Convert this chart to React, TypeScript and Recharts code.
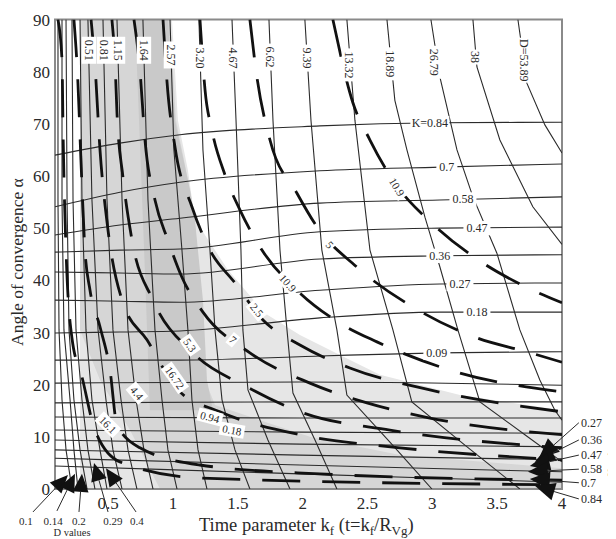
import React from 'react';
import {
  ComposedChart,
  Line,
  Area,
  XAxis,
  YAxis,
  ReferenceDot,
  ReferenceLine,
  ReferenceArea,
} from 'recharts';

type P = [number, number];
type R = [number, number, number];

const FONT = '"Liberation Serif", "Times New Roman", serif';

const X_TICKS = [0.5, 1, 1.5, 2, 2.5, 3, 3.5, 4];
const Y_TICKS = [0, 10, 20, 30, 40, 50, 60, 70, 80, 90];

// shaded regions: [x, low, high]
const SHADE_LIGHT: R[] = [
  [0.283, 0, 90], [0.992, 0, 90], [1.038, 0, 70.7], [1.115, 0, 61.1], [1.169, 0, 51.6],
  [1.424, 0, 42.0], [1.709, 0, 33.7], [1.979, 0, 29.5], [2.287, 0, 25.7], [2.596, 0, 21.9],
  [3.213, 0, 18.0], [4.0, 0, 15.1],
];
const SHADE_MID: R[] = [
  [0.283, 30.5, 90], [0.437, 20.9, 90], [0.668, 11.3, 90], [0.9, 0, 90], [0.977, 0, 90],
  [1.023, 0, 70.7], [1.131, 0, 57.3], [1.169, 0, 51.6], [1.208, 0, 36.2], [1.247, 0, 20.9],
  [1.324, 0, 16.1], [1.671, 0, 13.2], [2.056, 0, 10.0], [2.75, 0, 6.5], [4.0, 0, 4.0],
];
const SHADE_DARK: R[] = [
  [0.707, 90, 90], [0.745, 66.3, 90], [0.784, 41.4, 90], [0.822, 15.1, 90], [0.961, 15.1, 90],
  [1.015, 15.1, 70.7], [1.131, 15.1, 57.3], [1.169, 15.1, 51.6], [1.231, 15.1, 36.2],
  [1.262, 15.1, 20.9], [1.3, 15.1, 16.1],
];

// D iso-lines (solid)
const D_0_10: P[] = [[0.113, 90], [0.113, 55.4], [0.121, 30.5], [0.144, 17.1], [0.175, 7.5], [0.221, 0]];
const D_0_14: P[] = [[0.144, 90], [0.144, 55.4], [0.159, 30.5], [0.206, 17.1], [0.236, 7.5], [0.267, 0]];
const D_0_20: P[] = [[0.175, 90], [0.183, 55.4], [0.198, 30.5], [0.236, 17.1], [0.283, 7.5], [0.337, 0]];
const D_0_29: P[] = [[0.221, 90], [0.229, 55.4], [0.252, 30.5], [0.298, 17.1], [0.344, 7.5], [0.398, 0]];
const D_0_40: P[] = [[0.283, 90], [0.298, 55.4], [0.329, 30.5], [0.375, 17.1], [0.437, 7.5], [0.491, 0]];
const D_0_51: P[] = [[0.344, 90], [0.375, 55.4], [0.422, 30.5], [0.483, 17.1], [0.537, 7.5], [0.607, 0]];
const D_0_81: P[] = [[0.46, 90], [0.491, 55.4], [0.537, 30.5], [0.599, 17.1], [0.653, 7.5], [0.722, 0]];
const D_1_15: P[] = [[0.568, 90], [0.607, 55.4], [0.653, 30.5], [0.715, 17.1], [0.776, 7.5], [0.846, 0]];
const D_1_64: P[] = [[0.768, 90], [0.807, 55.4], [0.861, 30.5], [0.915, 17.1], [0.961, 7.5], [1.031, 0]];
const D_2_57: P[] = [[0.977, 90], [1.007, 65.0], [1.069, 45.8], [1.115, 30.5], [1.146, 17.1], [1.193, 7.5], [1.262, 0]];
const D_3_20: P[] = [[1.2, 90], [1.231, 65.0], [1.285, 45.8], [1.324, 30.5], [1.378, 17.1], [1.478, 7.5], [1.593, 0]];
const D_4_67: P[] = [[1.455, 90], [1.486, 70.7], [1.524, 45.8], [1.539, 30.5], [1.578, 19.0], [1.732, 9.4], [1.902, 0]];
const D_6_62: P[] = [[1.74, 90], [1.771, 70.7], [1.825, 45.8], [1.879, 30.5], [1.925, 18.4], [2.095, 9.4], [2.264, 0]];
const D_9_39: P[] = [[2.017, 90], [2.064, 70.7], [2.148, 45.8], [2.264, 30.5], [2.341, 18.0], [2.673, 9.0], [2.997, 0]];
const D_13_32: P[] = [[2.341, 90], [2.403, 70.7], [2.519, 45.8], [2.696, 30.5], [2.842, 16.7], [3.251, 8.4], [3.675, 0]];
const D_18_89: P[] = [[2.65, 90], [2.711, 74.5], [2.804, 65.0], [2.943, 52.1], [3.058, 42.6], [3.197, 30.5], [3.367, 16.7], [3.714, 10.4], [4.0, 5.2]];
const D_26_79: P[] = [[2.989, 90], [3.058, 79.0], [3.19, 65.0], [3.313, 56.0], [3.498, 45.2], [3.675, 30.5], [3.829, 20.9], [3.945, 15.1], [4.0, 13.2]];
const D_38: P[] = [[3.313, 90], [3.344, 80.9], [3.521, 66.9], [3.775, 54.1], [4.0, 46.9]];
const D_53_89: P[] = [[3.66, 90], [3.729, 77.8], [3.868, 69.8], [4.0, 64.4]];

const D_LINES = [
  D_0_10, D_0_14, D_0_20, D_0_29, D_0_40, D_0_51, D_0_81, D_1_15, D_1_64, D_2_57,
  D_3_20, D_4_67, D_6_62, D_9_39, D_13_32, D_18_89, D_26_79, D_38, D_53_89,
];

// K iso-lines, upper branch
const K_084: P[] = [[0.09, 64.0], [0.591, 66.3], [1.054, 67.9], [2.133, 69.6], [3.058, 70.2], [4.0, 70.3]];
const K_070: P[] = [[0.09, 54.1], [0.591, 56.9], [1.054, 58.8], [2.133, 61.0], [3.058, 61.7], [4.0, 62.3]];
const K_058: P[] = [[0.09, 48.7], [0.591, 50.6], [1.054, 51.9], [2.133, 54.8], [3.058, 55.4], [4.0, 56.0]];
const K_047: P[] = [[0.09, 45.4], [0.591, 45.8], [1.054, 46.0], [2.133, 49.3], [3.058, 50.0], [4.0, 50.2]];
const K_036: P[] = [[0.09, 41.6], [0.591, 41.4], [1.054, 41.2], [2.133, 44.1], [3.058, 44.7], [4.0, 44.9]];
const K_027: P[] = [[0.09, 36.2], [0.591, 36.0], [1.054, 35.8], [2.133, 38.1], [3.058, 39.3], [4.0, 39.5]];
const K_018: P[] = [[0.09, 29.9], [0.591, 30.1], [1.054, 30.3], [2.133, 32.8], [3.058, 33.9], [4.0, 33.9]];
const K_009: P[] = [[0.09, 24.7], [0.591, 24.7], [1.054, 24.7], [2.133, 25.5], [3.058, 26.1], [4.0, 26.3]];
// K iso-lines, lower branch
const KL_009: P[] = [[0.09, 20.3], [1.979, 20.5], [4.0, 19.9]];
const KL_018: P[] = [[0.09, 16.5], [1.979, 16.7], [4.0, 16.7]];
const KL_027: P[] = [[0.09, 13.8], [1.979, 13.6], [4.0, 13.6]];
const KL_036: P[] = [[0.09, 11.3], [1.979, 10.9], [4.0, 10.7]];
const KL_047: P[] = [[0.09, 9.4], [1.979, 8.6], [4.0, 8.1]];
const KL_058: P[] = [[0.09, 7.5], [1.979, 6.5], [4.0, 5.6]];
const KL_070: P[] = [[0.09, 5.9], [1.979, 4.6], [4.0, 3.3]];
const KL_084: P[] = [[0.09, 4.4], [1.979, 2.9], [4.0, 1.3]];

const K_LINES = [
  K_084, K_070, K_058, K_047, K_036, K_027, K_018, K_009,
  KL_009, KL_018, KL_027, KL_036, KL_047, KL_058, KL_070, KL_084,
];

// dashed family
const G_1: P[] = [[2.233, 90], [2.388, 74.0], [2.519, 66.9], [2.696, 59.2], [3.012, 50.6], [3.367, 43.7], [3.691, 39.1], [4.0, 35.7]];
const G_2: P[] = [[1.593, 90], [1.647, 79.0], [1.748, 66.9], [1.956, 56.7], [2.118, 50.0], [2.411, 42.7], [2.904, 34.1], [3.351, 28.9], [3.729, 26.3], [4.0, 24.3]];
const G_3: P[] = [[1.208, 90], [1.247, 76.5], [1.3, 68.8], [1.401, 60.2], [1.516, 53.5], [1.686, 45.8], [1.956, 38.1], [2.287, 31.8], [2.573, 28.2], [3.19, 22.4], [4.0, 18.6]];
const G_4: P[] = [[0.923, 90], [0.954, 78.0], [1.015, 65.6], [1.146, 54.1], [1.285, 45.8], [1.478, 39.5], [1.694, 32.4], [1.979, 27.6], [2.364, 23.2], [2.981, 19.0], [4.0, 14.8]];
const G_5: P[] = [[0.699, 90], [0.745, 80.3], [0.784, 66.9], [0.861, 55.4], [0.961, 47.7], [1.069, 40.6], [1.231, 33.9], [1.593, 26.1], [2.056, 20.3], [2.496, 16.5], [2.981, 13.6], [4.0, 10.4]];
const G_6: P[] = [[0.529, 90], [0.553, 81.8], [0.568, 72.1], [0.614, 59.8], [0.684, 47.7], [0.846, 36.2], [1.154, 26.1], [1.57, 19.6], [2.002, 14.6], [2.673, 11.3], [4.0, 7.9]];
const G_7: P[] = [[0.368, 90], [0.398, 81.3], [0.437, 65.0], [0.499, 49.6], [0.614, 35.7], [0.799, 28.6], [1.038, 19.0], [1.362, 14.8], [1.979, 10.4], [2.75, 7.9], [4.0, 5.6]];
const G_8: P[] = [[0.236, 90], [0.267, 77.8], [0.29, 63.1], [0.321, 45.8], [0.36, 38.1], [0.437, 31.1], [0.514, 22.8], [0.568, 12.3], [0.745, 7.9], [1.208, 4.6], [2.133, 2.9], [4.0, 1.7]];
const G_9: P[] = [[0.113, 90], [0.144, 82.2], [0.152, 68.8], [0.175, 45.8], [0.221, 28.9], [0.298, 21.5], [0.398, 11.3], [0.591, 5.2], [1.208, 2.1], [4.0, 0.8]];

const G_LINES = [G_1, G_2, G_3, G_4, G_5, G_6, G_7, G_8, G_9];

// labels
const D_LABELS = ['0.51', '0.81', '1.15', '1.64', '2.57', '3.20', '4.67', '6.62', '9.39', '13.32', '18.89', '26.79', '38', 'D=53.89'];
const D_LABEL_AT: P[] = [
  [0.352, 84.1], [0.468, 84.1], [0.576, 84.1], [0.776, 84.1], [0.984, 83.2], [1.208, 82.6],
  [1.462, 82.6], [1.748, 82.8], [2.033, 82.6], [2.357, 81.3], [2.673, 81.5], [3.012, 81.8],
  [3.328, 82.8], [3.706, 82.2],
];
const K_LABELS = ['K=0.84', '0.7', '0.58', '0.47', '0.36', '0.27', '0.18', '0.09'];
const K_LABEL_AT: P[] = [
  [2.981, 70.1], [3.112, 61.7], [3.236, 55.5], [3.344, 50.0], [3.058, 44.7], [3.213, 39.3],
  [3.344, 33.9], [3.035, 26.1],
];
const G_LABELS = ['10.9', '5', '10.9', '2.5', '7', '5.3', '16.72', '4.4', '16.1', '0.94', '0.18'];
const G_LABEL_AT: P[] = [
  [2.727, 57.9], [2.21, 46.8], [1.886, 39.5], [1.647, 34.3], [1.462, 28.6], [1.131, 27.6],
  [1.015, 21.3], [0.722, 18.4], [0.499, 12.3], [1.285, 13.8], [1.455, 11.3],
];
const G_LABEL_ROT = [58, 50, 48, 50, 40, 55, 55, 50, 45, 15, 10];

const D_SIDE_LABELS = ['0.1', '0.14', '0.2', '0.29', '0.4'];
const D_SIDE_TEXT_AT: P[] = [[-0.134, -6.1], [0.075, -6.1], [0.275, -6.1], [0.537, -6.1], [0.722, -6.1]];
const D_SIDE_FROM: P[] = [[-0.08, -4.4], [0.105, -4.2], [0.275, -4.4], [0.499, -4.4], [0.715, -4.4]];
const D_SIDE_TO: P[] = [[0.19, 2.7], [0.244, 2.9], [0.298, 2.9], [0.391, 5.0], [0.483, 4.0]];

const K_SIDE_LABELS = ['0.27', '0.36', '0.47', '0.58', '0.7', '0.84'];
const K_SIDE_TEXT_AT: P[] = [[4.146, 12.7], [4.146, 9.4], [4.146, 6.5], [4.146, 3.8], [4.146, 1.2], [4.146, -1.9]];
const K_SIDE_FROM: P[] = [[4.13, 12.7], [4.13, 9.4], [4.13, 6.5], [4.13, 3.8], [4.13, 1.2], [4.13, -1.9]];
const K_SIDE_TO: P[] = [[3.822, 5.9], [3.791, 5.2], [3.752, 4.4], [3.737, 3.3], [3.752, 1.9], [3.791, 0.6]];

const toPts = (a: P[]) => a.map(([x, y]) => ({ x, y }));
const toRange = (a: R[]) => a.map(([x, lo, hi]) => ({ x, r: [lo, hi] }));

function TextMark(props: any) {
  const { cx, cy, text, rot = 0, size = 12, bg = false, anchor = 'middle', baseline = 'central' } = props;
  if (cx == null || cy == null || isNaN(cx) || isNaN(cy)) return null;
  const w = String(text).length * size * 0.5 + 3;
  return (
    <g transform={`translate(${cx},${cy}) rotate(${rot})`}>
      {bg ? <rect x={-w / 2} y={-size * 0.6} width={w} height={size * 1.2} fill="#ffffff" /> : null}
      <text
        x={0}
        y={0}
        textAnchor={anchor}
        dominantBaseline={baseline}
        fontSize={size}
        fontFamily={FONT}
        fill="#2a2a2a"
      >
        {text}
      </text>
    </g>
  );
}

const arrowShape = (len: number, half: number) => (p: any) => {
  const { x1, y1, x2, y2 } = p;
  if ([x1, y1, x2, y2].some((v) => v == null || isNaN(v))) return null;
  const dx = x2 - x1;
  const dy = y2 - y1;
  const d = Math.hypot(dx, dy) || 1;
  const ux = dx / d;
  const uy = dy / d;
  const bx = x2 - ux * len;
  const by = y2 - uy * len;
  const pts = `${x2},${y2} ${bx - uy * half},${by + ux * half} ${bx + uy * half},${by - ux * half}`;
  return (
    <g>
      <line x1={x1} y1={y1} x2={bx} y2={by} stroke="#2a2a2a" strokeWidth={1} />
      <polygon points={pts} fill="#111" />
    </g>
  );
};

export default function App() {
  return (
    <div style={{ width: 608, height: 531, fontFamily: FONT }}>
      <ComposedChart width={608} height={531} margin={{ top: 11.5, right: 54, bottom: 20, left: 0 }}>
        <XAxis
          type="number"
          dataKey="x"
          domain={[0.09, 4]}
          ticks={X_TICKS}
          interval={0}
          allowDataOverflow
          axisLine={false}
          tickLine={false}
          tickSize={6}
          tickMargin={2}
          height={30}
          tick={{ fill: '#2a2a2a', fontSize: 17, fontFamily: FONT }}
        />
        <YAxis
          type="number"
          domain={[0, 90]}
          ticks={Y_TICKS}
          interval={0}
          allowDataOverflow
          axisLine={false}
          tickLine={false}
          tickSize={3}
          tickMargin={2}
          width={47}
          tick={{ fill: '#2a2a2a', fontSize: 17, fontFamily: FONT }}
        />

        <Area data={toRange(SHADE_LIGHT)} dataKey="r" type="linear" stroke="none" fill="#e6e6e6" fillOpacity={1} isAnimationActive={false} dot={false} activeDot={false} />
        <Area data={toRange(SHADE_MID)} dataKey="r" type="linear" stroke="none" fill="#d6d6d6" fillOpacity={1} isAnimationActive={false} dot={false} activeDot={false} />
        <Area data={toRange(SHADE_DARK)} dataKey="r" type="linear" stroke="none" fill="#c9c9c9" fillOpacity={1} isAnimationActive={false} dot={false} activeDot={false} />

        {K_LINES.map((c, i) => (
          <Line key={'k' + i} data={toPts(c)} dataKey="y" type="monotone" stroke="#2b2b2b" strokeWidth={1.1} dot={false} activeDot={false} isAnimationActive={false} />
        ))}
        {D_LINES.map((c, i) => (
          <Line key={'d' + i} data={toPts(c)} dataKey="y" type="linear" stroke="#2b2b2b" strokeWidth={1.1} dot={false} activeDot={false} isAnimationActive={false} />
        ))}
        {G_LINES.map((c, i) => (
          <Line key={'g' + i} data={toPts(c)} dataKey="y" type="monotone" stroke="#111" strokeWidth={2.8} strokeDasharray="38 22" dot={false} activeDot={false} isAnimationActive={false} />
        ))}

        {D_LABELS.map((t, i) => (
          <ReferenceDot key={'dl' + i} x={D_LABEL_AT[i][0]} y={D_LABEL_AT[i][1]} r={0} ifOverflow="visible"
            shape={(p: any) => <TextMark cx={p.cx} cy={p.cy} text={t} rot={90} size={12} bg />} />
        ))}
        {K_LABELS.map((t, i) => (
          <ReferenceDot key={'kl' + i} x={K_LABEL_AT[i][0]} y={K_LABEL_AT[i][1]} r={0} ifOverflow="visible"
            shape={(p: any) => <TextMark cx={p.cx} cy={p.cy} text={t} rot={0} size={12} bg />} />
        ))}
        {G_LABELS.map((t, i) => (
          <ReferenceDot key={'gl' + i} x={G_LABEL_AT[i][0]} y={G_LABEL_AT[i][1]} r={0} ifOverflow="visible"
            shape={(p: any) => <TextMark cx={p.cx} cy={p.cy} text={t} rot={G_LABEL_ROT[i]} size={11} bg />} />
        ))}

        <ReferenceArea x1={0.09} x2={4} y1={0} y2={90} fill="none" fillOpacity={0} stroke="#8a8a8a" strokeWidth={2} ifOverflow="visible" />

        {D_SIDE_LABELS.map((t, i) => (
          <ReferenceLine key={'dsl' + i} ifOverflow="visible"
            segment={[{ x: D_SIDE_FROM[i][0], y: D_SIDE_FROM[i][1] }, { x: D_SIDE_TO[i][0], y: D_SIDE_TO[i][1] }]}
            shape={arrowShape(18, 8)} />
        ))}
        {K_SIDE_LABELS.map((t, i) => (
          <ReferenceLine key={'ksl' + i} ifOverflow="visible"
            segment={[{ x: K_SIDE_FROM[i][0], y: K_SIDE_FROM[i][1] }, { x: K_SIDE_TO[i][0], y: K_SIDE_TO[i][1] }]}
            shape={arrowShape(20, 9)} />
        ))}
        {D_SIDE_LABELS.map((t, i) => (
          <ReferenceDot key={'dst' + i} x={D_SIDE_TEXT_AT[i][0]} y={D_SIDE_TEXT_AT[i][1]} r={0} ifOverflow="visible"
            shape={(p: any) => <TextMark cx={p.cx} cy={p.cy} text={t} size={11} />} />
        ))}
        {K_SIDE_LABELS.map((t, i) => (
          <ReferenceDot key={'kst' + i} x={K_SIDE_TEXT_AT[i][0]} y={K_SIDE_TEXT_AT[i][1]} r={0} ifOverflow="visible"
            shape={(p: any) => <TextMark cx={p.cx} cy={p.cy} text={t} size={12} anchor="start" />} />
        ))}
        <ReferenceDot x={0.221} y={-8.4} r={0} ifOverflow="visible"
          shape={(p: any) => <TextMark cx={p.cx} cy={p.cy} text="D values" size={10.5} />} />
        <ReferenceDot x={4.377} y={6.1} r={0} ifOverflow="visible"
          shape={(p: any) => <TextMark cx={p.cx} cy={p.cy} text="K values" size={11} rot={-90} />} />

        <ReferenceDot x={-0.203} y={43.5} r={0} ifOverflow="visible"
          shape={(p: any) => <TextMark cx={p.cx} cy={p.cy} text="Angle of convergence α" size={17.5} rot={-90} />} />
        <ReferenceDot x={1.2} y={-8.05} r={0} ifOverflow="visible"
          shape={(p: any) =>
            p.cx == null ? null : (
              <text x={p.cx} y={p.cy} fontSize={18.5} fontFamily={FONT} fill="#2a2a2a" textAnchor="start">
                Time parameter k<tspan fontSize={13} dy={4}>f</tspan>
                <tspan dy={-4}> (t=k</tspan><tspan fontSize={13} dy={4}>f</tspan>
                <tspan dy={-4}>/R</tspan><tspan fontSize={13} dy={4}>Vg</tspan>
                <tspan dy={-4}>)</tspan>
              </text>
            )
          } />
      </ComposedChart>
    </div>
  );
}
